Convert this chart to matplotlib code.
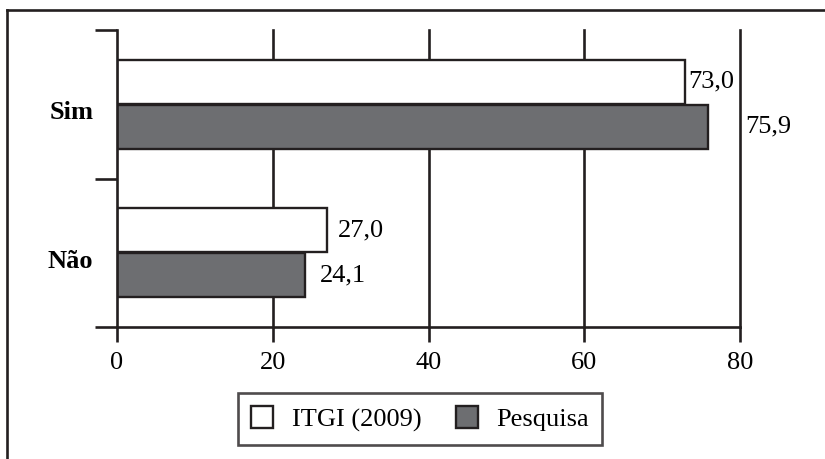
import matplotlib.pyplot as plt
import numpy as np
from matplotlib.lines import Line2D
from matplotlib.patches import Patch

plt.rcParams['font.family'] = ['Liberation Serif', 'DejaVu Serif']

categories = ['Não', 'Sim']
itgi = [27.0, 73.0]
pesquisa = [24.1, 75.9]
series_names = ['ITGI (2009)', 'Pesquisa']

# label offsets in points (the original nudges some labels to dodge gridlines)
itgi_pad = [8, 2]
pesq_pad = [11, 27]

gray = '#6d6e71'
ink = '#231f20'
fs = 19
lw = 1.9

fig = plt.figure(figsize=(8.25, 4.59), dpi=100)
ax = fig.add_axes([117/825, 1 - 327/459, (740 - 117)/825, (327 - 30)/459])

y = np.arange(len(categories))
h = 0.296
ax.barh(y + 0.152, itgi, h, color='white', edgecolor=ink, linewidth=1.7, zorder=3)
ax.barh(y - 0.152, pesquisa, h, color=gray, edgecolor=ink, linewidth=1.7, zorder=3)

def lab(v):
    return f'{v:.1f}'.replace('.', ',')

for i in range(len(categories)):
    ax.annotate(lab(itgi[i]), (itgi[i], y[i] + 0.152), xytext=(itgi_pad[i], 0),
                textcoords='offset points', va='center', ha='left', fontsize=fs, zorder=4)
    ax.annotate(lab(pesquisa[i]), (pesquisa[i], y[i] - 0.152), xytext=(pesq_pad[i], 0),
                textcoords='offset points', va='center', ha='left', fontsize=fs, zorder=4)

ax.set_xlim(0, 80)
ax.set_ylim(-0.5, 1.5)
ax.set_xticks([0, 20, 40, 60, 80])
ax.tick_params(axis='x', length=11, width=lw, pad=7, labelsize=fs, color=ink)
ax.set_yticks(y - 0.04)
ax.set_yticklabels(categories, fontweight='bold', fontsize=fs)
ax.tick_params(axis='y', which='major', length=0, pad=17)
ax.set_yticks([-0.5, 0.5, 1.5], minor=True)
ax.tick_params(axis='y', which='minor', length=16, width=lw, color=ink)

for x in [20, 40, 60, 80]:
    ax.axvline(x, color=ink, linewidth=lw, zorder=1, clip_on=False)

ax.spines['top'].set_visible(False)
ax.spines['right'].set_visible(False)
for s in ['left', 'bottom']:
    ax.spines[s].set_linewidth(lw)
    ax.spines[s].set_color(ink)
    ax.spines[s].set_zorder(5)

handles = [Patch(facecolor='white', edgecolor=ink, linewidth=1.7, label=series_names[0]),
           Patch(facecolor=gray, edgecolor=ink, linewidth=1.7, label=series_names[1])]
leg = fig.legend(handles=handles, loc='center', bbox_to_anchor=(420/825, 1 - 419/459),
                 ncol=2, fontsize=fs, frameon=True, fancybox=False, edgecolor=ink,
                 handlelength=0.85, handleheight=0.85, handletextpad=0.7, columnspacing=1.3,
                 borderpad=0.5, borderaxespad=0)
leg.get_frame().set_linewidth(lw)

# outer frame (top and left edges visible in the crop)
fig.add_artist(Line2D([7/825, 1], [1 - 10/459, 1 - 10/459], color=ink, linewidth=lw))
fig.add_artist(Line2D([7/825, 7/825], [0, 1 - 10/459], color=ink, linewidth=lw))

plt.savefig('out.png', dpi=100)
